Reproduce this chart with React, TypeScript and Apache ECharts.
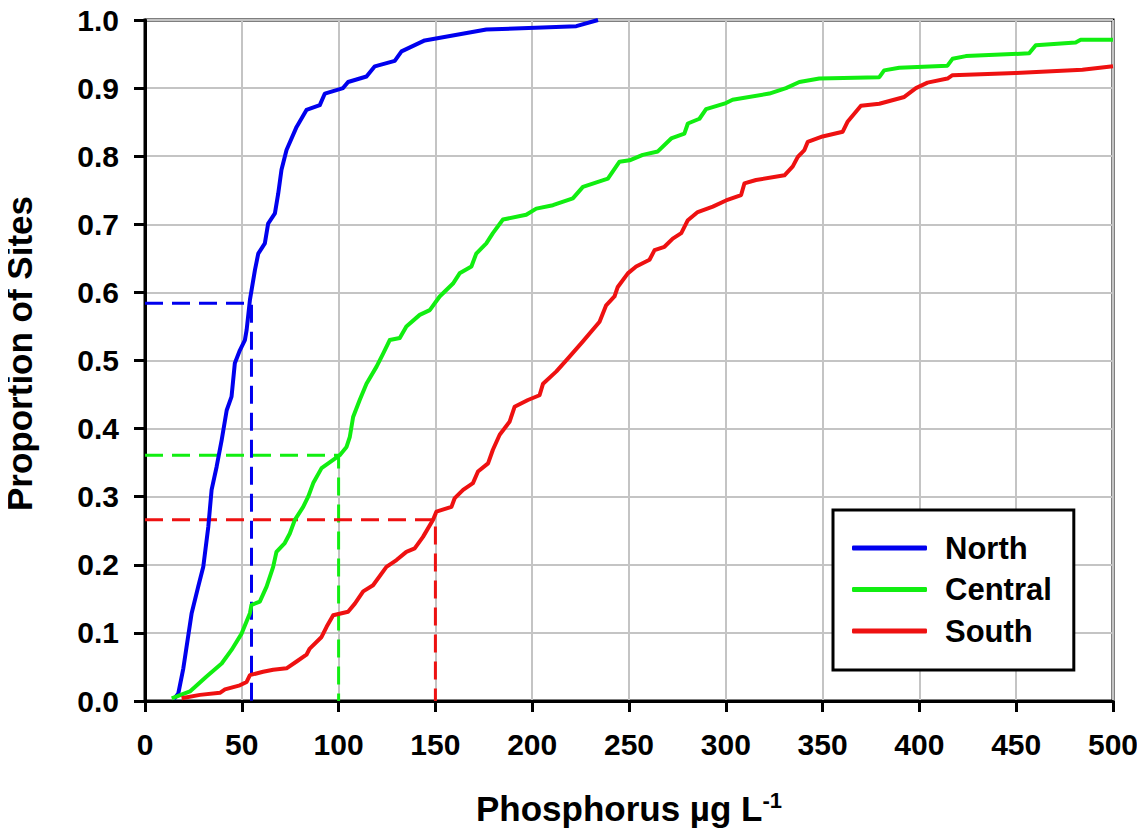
import React, { useEffect, useRef } from "react";
import * as echarts from "echarts";

const seriesNames = ["North", "Central", "South"];
const seriesColors = ["#0000ee", "#11ee11", "#ee1111"];

const northX = [15, 17.2, 19.8, 24.1, 27.5, 30.1, 32.7, 34.4, 37, 39.6, 42.2, 44.7, 46.4, 49, 51.6, 52.5, 54.2, 56.8, 58.5, 61.9, 63.6, 67.1, 68.8, 70.5, 73.1, 78.3, 83.4, 90.3, 92.9, 102.3, 104.9, 114.4, 118.7, 129, 132.5, 144.5, 176.3, 222.8, 234];
const northY = [0.003, 0.011, 0.048, 0.129, 0.168, 0.197, 0.256, 0.31, 0.344, 0.383, 0.427, 0.447, 0.496, 0.515, 0.53, 0.545, 0.589, 0.633, 0.657, 0.672, 0.701, 0.716, 0.745, 0.78, 0.809, 0.843, 0.868, 0.875, 0.892, 0.9, 0.909, 0.917, 0.932, 0.94, 0.954, 0.97, 0.986, 0.991, 1.0];

const centralX = [13.8, 23.2, 31.8, 39.6, 44.7, 49.9, 54.2, 55, 59.3, 62.8, 66.2, 67.9, 72.2, 74.8, 77.4, 81.7, 84.3, 86.9, 91.2, 97.2, 100.6, 104.1, 105.8, 107.5, 110.9, 114.4, 119.6, 123, 126.4, 131.6, 135, 141.9, 147.1, 152.2, 159.1, 162.5, 168.6, 171.1, 176.3, 179.7, 184.9, 196.9, 202.1, 210.7, 221, 226.2, 234.8, 239.1, 245.1, 250.3, 257.1, 264.9, 271.8, 278.6, 280.4, 286.4, 289.8, 300.1, 303.5, 322.5, 331.1, 338, 348.3, 379.3, 381.8, 389.6, 414.5, 417.1, 424, 456.7, 460.1, 480.7, 483.3, 500];
const centralY = [0.004, 0.014, 0.036, 0.055, 0.075, 0.099, 0.129, 0.141, 0.146, 0.168, 0.197, 0.219, 0.232, 0.246, 0.266, 0.285, 0.3, 0.32, 0.342, 0.354, 0.361, 0.373, 0.388, 0.417, 0.442, 0.466, 0.491, 0.51, 0.53, 0.533, 0.55, 0.567, 0.574, 0.594, 0.613, 0.628, 0.638, 0.657, 0.672, 0.687, 0.707, 0.714, 0.723, 0.728, 0.738, 0.755, 0.763, 0.767, 0.792, 0.794, 0.802, 0.807, 0.826, 0.833, 0.848, 0.855, 0.869, 0.878, 0.883, 0.892, 0.9, 0.909, 0.914, 0.916, 0.926, 0.93, 0.933, 0.943, 0.947, 0.951, 0.963, 0.967, 0.971, 0.971];

const southX = [18.9, 28.4, 38.7, 41.3, 49, 52.5, 54.2, 61, 66.2, 73.1, 78.3, 83.4, 85.1, 91.2, 93.8, 97.2, 104.9, 108.4, 112.7, 117.8, 124.7, 129.9, 135, 139.3, 143.6, 148.8, 150.5, 158.3, 160, 164.3, 169.4, 172, 177.2, 179.7, 183.2, 188.3, 190.9, 197.8, 203.8, 205.6, 212.5, 218.5, 226.2, 234.8, 238.2, 242.5, 244.2, 249.4, 253.7, 260.6, 263.2, 268.3, 272.6, 277, 280.4, 285.5, 293.3, 300.1, 307.9, 309.6, 315.6, 330.3, 334.6, 337.2, 340.6, 342.3, 350, 360.4, 363, 369.8, 379.3, 392.2, 398.2, 404.2, 414.5, 417.1, 449.8, 484.2, 500];
const southY = [0.004, 0.009, 0.012, 0.017, 0.023, 0.028, 0.038, 0.043, 0.046, 0.048, 0.058, 0.068, 0.077, 0.094, 0.109, 0.126, 0.131, 0.143, 0.161, 0.17, 0.197, 0.207, 0.219, 0.224, 0.241, 0.266, 0.278, 0.285, 0.298, 0.31, 0.32, 0.337, 0.349, 0.369, 0.391, 0.41, 0.432, 0.442, 0.449, 0.466, 0.484, 0.503, 0.528, 0.557, 0.581, 0.594, 0.608, 0.628, 0.638, 0.648, 0.662, 0.667, 0.679, 0.687, 0.706, 0.718, 0.726, 0.735, 0.743, 0.76, 0.765, 0.772, 0.785, 0.799, 0.809, 0.821, 0.829, 0.836, 0.851, 0.874, 0.877, 0.887, 0.9, 0.908, 0.914, 0.919, 0.922, 0.927, 0.932];

// reference (threshold) lines: phosphorus value and proportion for each region
const thresholdX = [55, 100, 150];
const thresholdY = [0.584, 0.361, 0.266];

const FONT = "'Liberation Sans', Arial, sans-serif";

function zip(xs: number[], ys: number[]) {
  return xs.map((x, i) => [x, ys[i]]);
}

export default function App() {
  const ref = useRef<HTMLDivElement>(null);
  useEffect(() => {
    if (!ref.current) return;
    const chart = echarts.init(ref.current, null, { renderer: "svg" });
    const curves = [zip(northX, northY), zip(centralX, centralY), zip(southX, southY)];
    const dashed = thresholdX.map((tx, i) => ({
      name: seriesNames[i] + " threshold",
      type: "line",
      data: [[0, thresholdY[i]], [tx, thresholdY[i]], [tx, 0]],
      symbol: "none",
      silent: true,
      z: 2,
      lineStyle: { color: seriesColors[i], width: 3, type: [18, 9] },
    }));
    const solid = curves.map((d, i) => ({
      name: seriesNames[i],
      type: "line",
      data: d,
      symbol: "none",
      z: 3,
      color: seriesColors[i],
      itemStyle: { color: seriesColors[i] },
      lineStyle: { color: seriesColors[i], width: 4, join: "round" },
    }));
    chart.setOption({
      animation: false,
      backgroundColor: "#fff",
      grid: {
        left: 145,
        right: 32,
        top: 20,
        bottom: 137,
        containLabel: false,
        outerBoundsMode: "none",
        show: true,
        borderColor: "#000",
        borderWidth: 3,
      },
      legend: {
        data: seriesNames,
        orient: "vertical",
        left: 833,
        top: 510,
        icon: "roundRect",
        itemWidth: 75,
        itemHeight: 5,
        itemGap: 7.5,
        padding: [21, 22, 22, 19],
        borderColor: "#000",
        borderWidth: 3,
        borderRadius: 0,
        backgroundColor: "#fff",
        textStyle: {
          fontFamily: FONT,
          fontWeight: "bold",
          fontSize: 31,
          color: "#000",
          lineHeight: 34,
          padding: [0, 0, 0, 13],
        },
      },
      xAxis: {
        type: "value",
        min: 0,
        max: 500,
        interval: 50,
        name: "Phosphorus µg L{sup|-1}",
        nameLocation: "middle",
        nameGap: 88,
        nameTextStyle: {
          fontFamily: FONT,
          fontWeight: "bold",
          fontSize: 35,
          color: "#000",
          rich: {
            sup: {
              fontFamily: FONT,
              fontWeight: "bold",
              fontSize: 22,
              color: "#000",
              verticalAlign: "top",
              padding: [0, 0, 16, 0],
            },
          },
        },
        axisLine: { show: true, lineStyle: { color: "#000", width: 3 } },
        axisTick: { show: true, inside: false, length: 11, lineStyle: { color: "#000", width: 3 } },
        axisLabel: {
          margin: 28,
          fontFamily: FONT,
          fontWeight: "bold",
          fontSize: 30,
          color: "#000",
        },
        splitLine: { show: true, lineStyle: { color: "#c4c4c4", width: 2 } },
      },
      yAxis: {
        type: "value",
        min: 0,
        max: 1,
        interval: 0.1,
        name: "Proportion of Sites",
        nameLocation: "middle",
        nameGap: 108,
        nameTextStyle: {
          fontFamily: FONT,
          fontWeight: "bold",
          fontSize: 35,
          color: "#000",
          padding: [0, 0, 0, 14],
        },
        axisLine: { show: true, lineStyle: { color: "#000", width: 3 } },
        axisTick: { show: true, inside: false, length: 11, lineStyle: { color: "#000", width: 3 } },
        axisLabel: {
          margin: 26,
          fontFamily: FONT,
          fontWeight: "bold",
          fontSize: 30,
          color: "#000",
          formatter: (v: number) => v.toFixed(1),
        },
        splitLine: { show: true, lineStyle: { color: "#c4c4c4", width: 2 } },
      },
      series: [...dashed, ...solid],
    });
    return () => chart.dispose();
  }, []);
  return <div ref={ref} style={{ width: 1145, height: 838, margin: -8 }} />;
}
